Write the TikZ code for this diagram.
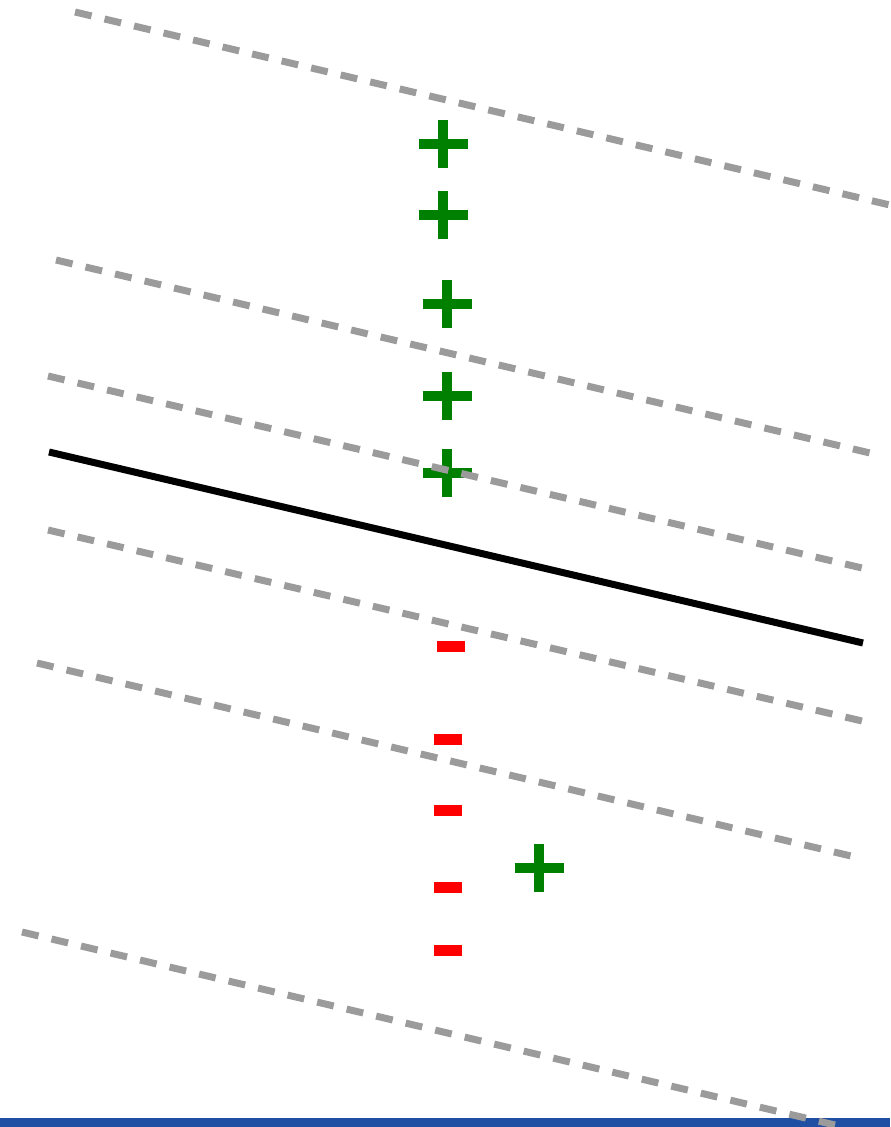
\documentclass[tikz,border=0pt]{standalone}
\usepackage{xcolor}
\usepackage{tikz}
\definecolor{fieldgray}{HTML}{9B9B9B}
\definecolor{posgreen}{HTML}{008000}
\definecolor{negred}{HTML}{FF0000}
\definecolor{barblue}{HTML}{1F4FA3}

\begin{document}
\begin{tikzpicture}[
    x=0.75pt, y=-0.75pt,
    level/.style={draw=fieldgray, line width=5.25pt, dash pattern=on 12.75pt off 10pt},
    boundary/.style={draw=black, line width=5.25pt},
    poscharge/.pic={\draw[posgreen, line width=7.5pt] (-24.5,0) -- (24.5,0) (0,-24) -- (0,24);},
    negcharge/.pic={\fill[negred] (-14,-5.5) rectangle (14,5.5);}
]
\useasboundingbox (0,0) rectangle (890,1127);
\clip (0,0) rectangle (890,1127);

% bottom bar
\fill[barblue] (0,1118) rectangle (890,1127);

% charges
\pic at (443,144) {poscharge};
\pic at (443,215) {poscharge};
\pic at (447,304) {poscharge};
\pic at (447,396) {poscharge};
\pic at (447,473) {poscharge};
\pic at (539,868) {poscharge};

\pic at (451,646) {negcharge};
\pic at (448,739) {negcharge};
\pic at (448,810) {negcharge};
\pic at (448,887) {negcharge};
\pic at (448,950) {negcharge};

% equipotential lines
\draw[level] (75,12) -- (894,206);
\draw[level] (56,260) -- (870,453);
\draw[level] (48,376) -- (862,568);
\draw[level] (48,530) -- (862,721);
\draw[level] (37,663) -- (851,856);
\draw[level] (22,932) -- (835,1125);

% boundary
\draw[boundary] (49,452) -- (863,643);
\end{tikzpicture}
\end{document}
